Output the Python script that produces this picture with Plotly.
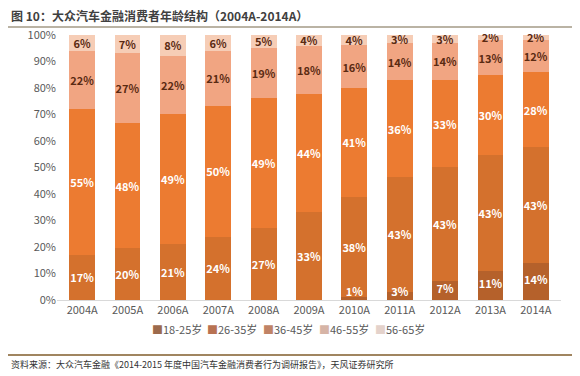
import plotly.graph_objects as go

years = ["2004A", "2005A", "2006A", "2007A", "2008A", "2009A", "2010A", "2011A", "2012A", "2013A", "2014A"]
age_groups = ["18-25岁", "26-35岁", "36-45岁", "46-55岁", "56-65岁"]
s18_25 = [0, 0, 0, 0, 0, 0, 1, 3, 7, 11, 14]
s26_35 = [17, 20, 21, 24, 27, 33, 38, 43, 43, 43, 43]
s36_45 = [55, 48, 49, 50, 49, 44, 41, 36, 33, 30, 28]
s46_55 = [22, 27, 22, 21, 19, 18, 16, 14, 14, 13, 12]
s56_65 = [6, 7, 8, 6, 5, 4, 4, 3, 3, 2, 2]
y_ticks = [0, 10, 20, 30, 40, 50, 60, 70, 80, 90, 100]

series = [s18_25, s26_35, s36_45, s46_55, s56_65]
colors = ["#B5612B", "#D4712D", "#EC7B31", "#F1A582", "#F6CDB6"]
legend_colors = ["#9C6A4C", "#B87252", "#C08366", "#D6B4A6", "#E4D2CB"]
text_colors = ["#FFFFFF", "#FFFFFF", "#FFFFFF", "#5A2A12", "#5A2A12"]

FONT = "Noto Sans CJK SC, Open Sans, sans-serif"
PW, PH = 504, 266

totals = [sum(t) for t in zip(*series)]

fig = go.Figure()
for i, (name, vals, c, tc) in enumerate(zip(age_groups, series, colors, text_colors)):
    fig.add_trace(go.Bar(
        x=years, y=vals, name=name,
        marker=dict(color=c, line=dict(width=0)),
        text=[f"<b>{v}%</b>" if (v > 0 and i > 0) else "" for v in vals],
        textposition="inside", insidetextanchor="middle", textangle=0,
        textfont=dict(color=tc, size=11, family=FONT),
        constraintext="none",
        hoverinfo="skip", showlegend=False,
    ))

# labels of the bottom (18-25) segment: kept clear of the baseline when the segment is tiny
fig.add_trace(go.Scatter(
    x=years,
    y=[max(v / t * 100 / 2, 2.6) for v, t in zip(s18_25, totals)],
    mode="text",
    text=[f"<b>{v}%</b>" if v > 0 else "" for v in s18_25],
    textposition="middle center",
    textfont=dict(color="#FFFFFF", size=11, family=FONT),
    hoverinfo="skip", showlegend=False, cliponaxis=False,
))

# page has an 8px body margin, so the figure is sized/positioned to compensate
fig.update_layout(
    barmode="stack", barnorm="percent", bargap=0.43,
    width=572, height=368,
    margin=dict(l=49, r=19, t=26, b=76),
    paper_bgcolor="#FFFFFF", plot_bgcolor="#FFFFFF",
    font=dict(family=FONT, color="#595959", size=11),
    uniformtext=dict(minsize=11, mode="show"),
    xaxis=dict(showline=True, linecolor="#D9D9D9", linewidth=1, ticks="",
               tickfont=dict(size=11, color="#595959"), showgrid=False),
    yaxis=dict(range=[0, 100.3], tickvals=y_ticks, ticktext=[f"{v}%" for v in y_ticks],
               showgrid=False, showline=False, zeroline=False, ticks="",
               tickfont=dict(size=11, color="#595959")),
)

# compact legend
legend_x = [150, 205, 261, 317, 373]
for name, lc, lx in zip(age_groups, legend_colors, legend_x):
    fig.add_annotation(xref="paper", yref="paper", x=(lx - 57) / PW, y=-(329 - 300) / PH,
                       xanchor="left", yanchor="middle", showarrow=False,
                       text=f'<span style="color:{lc}">■</span>{name}',
                       font=dict(size=11, color="#595959", family=FONT))

fig.add_annotation(xref="paper", yref="paper", x=-48 / PW, y=1 + 19 / PH, xanchor="left", yanchor="middle",
                   text="<b>图 10：大众汽车金融消费者年龄结构（2004A-2014A）</b>", showarrow=False,
                   font=dict(size=12, color="#404040", family=FONT))
fig.add_shape(type="line", xref="paper", yref="paper", x0=-49 / PW, x1=1 + 14 / PW,
              y0=1 + 7 / PH, y1=1 + 7 / PH, line=dict(color="#A39A86", width=1.5))
fig.add_shape(type="line", xref="paper", yref="paper", x0=-49 / PW, x1=1 + 14 / PW,
              y0=-55 / PH, y1=-55 / PH, line=dict(color="#A08560", width=2))
fig.add_annotation(xref="paper", yref="paper", x=-48 / PW, y=-64 / PH, xanchor="left", yanchor="middle",
                   text="资料来源：大众汽车金融《2014-2015 年度中国汽车金融消费者行为调研报告》，天风证券研究所",
                   showarrow=False, font=dict(size=9, color="#333333", family=FONT))

fig.write_html("out.html")
